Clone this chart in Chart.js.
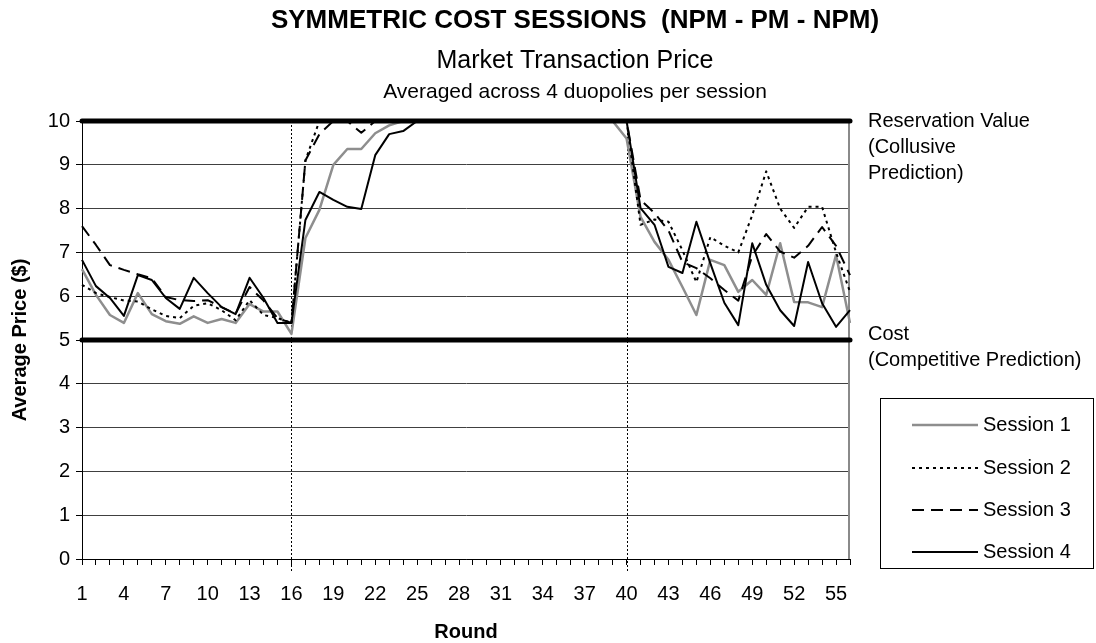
<!DOCTYPE html>
<html>
<head>
<meta charset="utf-8">
<title>Symmetric Cost Sessions</title>
<script src="https://cdn.jsdelivr.net/npm/chart.js@4.4.1/dist/chart.umd.min.js"></script>
<style>
    html, body { margin: 0; padding: 0; background: #fff; }
    #wrap { width: 1096px; height: 643px; }
</style>
</head>
<body>
<div id="wrap"><canvas id="priceChart" width="1096" height="643"></canvas></div>
<script>
// rounds of the experiment (x categories)
const rounds = ['1','2','3','4','5','6','7','8','9','10','11','12','13','14','15','16','17','18','19','20',
    '21','22','23','24','25','26','27','28','29','30','31','32','33','34','35','36','37','38','39','40',
    '41','42','43','44','45','46','47','48','49','50','51','52','53','54','55','56'];

// average transaction price per round, one array per session
const session1 = [6.62, 6.03, 5.57, 5.39, 6.07, 5.59, 5.43, 5.37, 5.54, 5.39,
    5.48, 5.39, 5.82, 5.65, 5.65, 5.14, 7.33, 7.97, 9.00, 9.36,
    9.36, 9.72, 9.90, 10, 10, 10, 10, 10, 10, 10,
    10, 10, 10, 10, 10, 10, 10, 10, 10, 9.60,
    7.81, 7.24, 6.83, 6.21, 5.57, 6.83, 6.71, 6.10, 6.37, 6.03,
    7.21, 5.87, 5.86, 5.75, 6.94, 5.39];
const session2 = [6.26, 6.07, 5.98, 5.90, 5.88, 5.70, 5.55, 5.50, 5.78, 5.84,
    5.68, 5.45, 5.91, 5.57, 5.50, 5.39, 9.10, 10, 10, 10,
    10, 10, 10, 10, 10, 10, 10, 10, 10, 10,
    10, 10, 10, 10, 10, 10, 10, 10, 10, 10,
    7.63, 7.75, 7.70, 7.05, 6.32, 7.35, 7.15, 7.00, 7.85, 8.85,
    8.00, 7.56, 8.04, 8.04, 7.00, 6.10];
const session3 = [7.60, 7.17, 6.71, 6.60, 6.50, 6.41, 5.98, 5.91, 5.89, 5.91,
    5.75, 5.60, 6.21, 5.90, 5.50, 5.39, 9.10, 9.70, 10, 10,
    9.73, 10, 10, 10, 10, 10, 10, 10, 10, 10,
    10, 10, 10, 10, 10, 10, 10, 10, 10, 10,
    8.20, 7.90, 7.50, 6.78, 6.64, 6.41, 6.14, 5.90, 6.92, 7.42,
    7.02, 6.88, 7.15, 7.58, 7.15, 6.48];
const session4 = [6.83, 6.23, 5.96, 5.55, 6.48, 6.37, 5.96, 5.71, 6.42, 6.07,
    5.75, 5.59, 6.42, 5.96, 5.39, 5.39, 7.74, 8.38, 8.20, 8.04,
    7.99, 9.22, 9.70, 9.77, 10, 10, 10, 10, 10, 10,
    10, 10, 10, 10, 10, 10, 10, 10, 10, 10,
    8.01, 7.63, 6.67, 6.53, 7.70, 6.75, 5.85, 5.34, 7.21, 6.26,
    5.68, 5.32, 6.78, 5.84, 5.30, 5.68];

const sessionNames = ['Session 1', 'Session 2', 'Session 3', 'Session 4'];
const yTicks = [0, 1, 2, 3, 4, 5, 6, 7, 8, 9, 10];

// reference levels and treatment switches
const reservationValue = 10;
const costValue = 5;
const phaseBreaks = ['16', '40'];

const FONT = '"Liberation Sans", Arial, sans-serif';

const decor = {
    id: 'decor',
    beforeDatasetsDraw(chart) {
        const { ctx, chartArea: a, scales: { x } } = chart;
        ctx.save();
        // grey right edge of the plot
        ctx.strokeStyle = '#8a8a8a';
        ctx.lineWidth = 2;
        ctx.beginPath();
        ctx.moveTo(a.right - 1, a.top);
        ctx.lineTo(a.right - 1, a.bottom);
        ctx.stroke();
        // dotted dividers between the treatments
        ctx.strokeStyle = '#000';
        ctx.lineWidth = 1;
        ctx.setLineDash([2, 2]);
        phaseBreaks.forEach(r => {
            const px = Math.round(x.getPixelForTick(rounds.indexOf(r))) + 0.5;
            ctx.beginPath();
            ctx.moveTo(px, a.top);
            ctx.lineTo(px, a.bottom + 13);
            ctx.stroke();
        });
        ctx.restore();
    },
    afterDatasetsDraw(chart) {
        const { ctx, chartArea: a, scales: { y } } = chart;
        ctx.save();
        ctx.strokeStyle = '#000';
        ctx.lineWidth = 5;
        ctx.lineCap = 'round';
        [reservationValue, costValue].forEach(v => {
            const py = y.getPixelForValue(v);
            ctx.beginPath();
            ctx.moveTo(a.left, py);
            ctx.lineTo(a.right, py);
            ctx.stroke();
        });
        ctx.restore();
    },
    afterDraw(chart) {
        const { ctx, chartArea: a } = chart;
        ctx.save();
        ctx.fillStyle = '#000';
        ctx.textBaseline = 'middle';
        ctx.textAlign = 'center';

        ctx.font = 'bold 26px ' + FONT;
        ctx.fillText('SYMMETRIC COST SESSIONS  (NPM - PM - NPM)', 575, 21);
        ctx.font = '25px ' + FONT;
        ctx.fillText('Market Transaction Price', 575, 61);
        ctx.font = '21px ' + FONT;
        ctx.fillText('Averaged across 4 duopolies per session', 575, 92);

        // axis titles
        ctx.font = 'bold 20px ' + FONT;
        ctx.fillText('Round', (a.left + a.right) / 2, 632);
        ctx.save();
        ctx.translate(20, 340);
        ctx.rotate(-Math.PI / 2);
        ctx.fillText('Average Price ($)', 0, 0);
        ctx.restore();

        // notes on the right
        ctx.textAlign = 'left';
        ctx.font = '20px ' + FONT;
        ctx.fillText('Reservation Value', 868, 121);
        ctx.fillText('(Collusive', 868, 147);
        ctx.fillText('Prediction)', 868, 173);
        ctx.fillText('Cost', 868, 334);
        ctx.fillText('(Competitive Prediction)', 868, 360);

        // legend box
        ctx.strokeStyle = '#000';
        ctx.lineWidth = 1;
        ctx.strokeRect(880.5, 398.5, 213, 170);
        const rows = [425, 468, 510, 552];
        chart.data.datasets.forEach((ds, i) => {
            ctx.save();
            ctx.strokeStyle = ds.borderColor;
            ctx.lineWidth = ds.borderWidth;
            ctx.setLineDash(ds.borderDash || []);
            ctx.beginPath();
            ctx.moveTo(912, rows[i]);
            ctx.lineTo(978, rows[i]);
            ctx.stroke();
            ctx.restore();
            ctx.fillText(ds.label, 983, rows[i]);
        });
        ctx.restore();
    }
};

function makeSet(label, data, color, width, dash, order) {
    return {
        label: label,
        data: data,
        borderColor: color,
        borderWidth: width,
        borderDash: dash,
        borderJoinStyle: 'round',
        pointRadius: 0,
        tension: 0,
        fill: false,
        order: order
    };
}

const ctx = document.getElementById('priceChart').getContext('2d');
const chart = new Chart(ctx, {
    type: 'line',
    data: {
        labels: rounds,
        datasets: [
            makeSet(sessionNames[0], session1, '#8e8e8e', 2.5, [], 4),
            makeSet(sessionNames[1], session2, '#000', 2, [3, 4], 3),
            makeSet(sessionNames[2], session3, '#000', 2, [12, 7], 2),
            makeSet(sessionNames[3], session4, '#000', 2, [], 1)
        ]
    },
    options: {
        responsive: false,
        animation: false,
        devicePixelRatio: 1,
        layout: { padding: { top: 121, right: 246, left: 0, bottom: 0 } },
        plugins: {
            legend: { display: false },
            tooltip: { enabled: false },
            title: { display: false }
        },
        scales: {
            x: {
                type: 'category',
                offset: false,
                afterFit: s => { s.height = 84; },
                grid: { display: true, drawOnChartArea: false, drawTicks: true, tickLength: 6, color: '#000' },
                border: { display: true, color: '#000', width: 1 },
                ticks: {
                    autoSkip: false,
                    maxRotation: 0,
                    minRotation: 0,
                    padding: 17,
                    color: '#000',
                    font: { family: FONT, size: 20 },
                    callback: (v, i) => (i % 3 === 0 ? rounds[i] : '')
                }
            },
            y: {
                min: yTicks[0],
                max: yTicks[yTicks.length - 1],
                afterFit: s => { s.width = 82; },
                afterBuildTicks: s => { s.ticks = yTicks.map(v => ({ value: v })); },
                grid: { color: '#404040', lineWidth: 1, tickLength: 6, tickColor: '#000' },
                border: { display: true, color: '#000', width: 1 },
                ticks: {
                    padding: 6,
                    color: '#000',
                    font: { family: FONT, size: 20 }
                }
            }
        }
    },
    plugins: [decor]
});
</script>
</body>
</html>
